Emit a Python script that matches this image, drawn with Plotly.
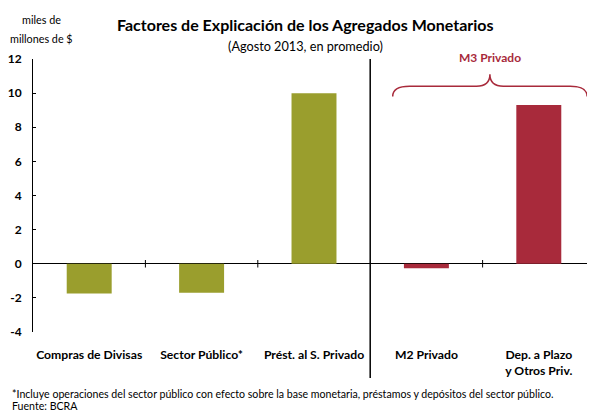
import plotly.graph_objects as go

categorias = ['Compras de Divisas', 'Sector Público*', 'Prést. al S. Privado', 'M2 Privado', 'Dep. a Plazo<br>y Otros Priv.']
valores = [-1.75, -1.7, 10.0, -0.27, 9.3]
colores = ['#9a9e2d', '#9a9e2d', '#9a9e2d', '#a82a3b', '#a82a3b']
y_ticks = [-4, -2, 0, 2, 4, 6, 8, 10, 12]

x_pos = list(range(len(categorias)))
fuente = 'Lato'

# la pagina agrega 8px de margen al cuerpo, asi que la figura es 8px mas chica
W, H = 587, 406


# posiciones en pixeles de la referencia convertidas a papel (area de trazado: 33..595 x 59..332)
def py(pix):
    return (332 - pix) / 273.0


def px(pix):
    return (pix - 33) / 562.0


fig = go.Figure()
fig.add_trace(go.Bar(x=x_pos, y=valores, marker=dict(color=colores, line=dict(width=0)),
                     width=0.4, showlegend=False))

# ticks del eje x en los limites de categoria
for b in [0.5, 1.5, 3.5]:
    fig.add_shape(type='line', x0=b, x1=b, y0=-0.22, y1=0.22, xref='x', yref='y',
                  line=dict(color='black', width=1))

# linea vertical que separa M3
fig.add_shape(type='line', x0=2.5, x1=2.5, y0=py(378), y1=1.0, xref='x', yref='paper',
              line=dict(color='black', width=1.5))

# llave sobre M3 Privado
xl, xr, xm = 2.70, 4.43, 3.565
yb, yh, yp = 9.8, 10.4, 11.1
llave = (f'M {xl},{yb} Q {xl},{yh} {xl+0.15},{yh} L {xm-0.12},{yh} '
         f'Q {xm},{yh} {xm},{yp} Q {xm},{yh} {xm+0.12},{yh} '
         f'L {xr-0.15},{yh} Q {xr},{yh} {xr},{yb}')
fig.add_shape(type='path', path=llave, xref='x', yref='y',
              line=dict(color='#a82a3b', width=1.5))

fig.add_annotation(x=xm, y=py(57), xref='x', yref='paper', text='<b>M3 Privado</b>',
                   showarrow=False, yanchor='middle', font=dict(size=12, color='#a82a3b', family=fuente))

textos = [
    ('<b>Factores de Explicación de los Agregados Monetarios</b>', 305, 24, 16, 'center'),
    ('(Agosto 2013, en promedio)', 305, 46, 12.7, 'center'),
    ('miles de', 41, 19, 10.8, 'center'),
    ('millones de $', 41, 38, 10.8, 'center'),
    ('*Incluye operaciones del sector público con efecto sobre la base monetaria, préstamos y depósitos del sector público.', 10, 394, 10.6, 'left'),
    ('Fuente: BCRA', 10, 406, 10.6, 'left'),
]
for t, x, y, s, a in textos:
    fig.add_annotation(x=px(x), y=py(y), xref='paper', yref='paper', text=t, showarrow=False,
                       xanchor=a, yanchor='middle', font=dict(size=s, color='black', family=fuente))

fig.update_layout(
    width=W, height=H,
    margin=dict(l=25, r=0, t=51, b=82),
    paper_bgcolor='white', plot_bgcolor='white',
    font=dict(family=fuente, color='black'),
    xaxis=dict(range=[-0.5, 4.5], tickvals=x_pos, ticktext=['<b>%s</b>' % c for c in categorias],
               showline=False, showgrid=False, zeroline=False, ticks='', automargin=False,
               tickfont=dict(size=12.2, family=fuente), ticklabelstandoff=14, tickangle=0),
    yaxis=dict(range=[-4, 12], tickvals=y_ticks, ticktext=['<b>%d</b>' % v for v in y_ticks],
               showline=True, linecolor='black', linewidth=1, ticks='inside', ticklen=3,
               tickcolor='black', showgrid=False, zeroline=True, zerolinecolor='black',
               zerolinewidth=1, automargin=False,
               tickfont=dict(size=12, family=fuente), ticklabelstandoff=8),
)

fig.write_html('out.html')
